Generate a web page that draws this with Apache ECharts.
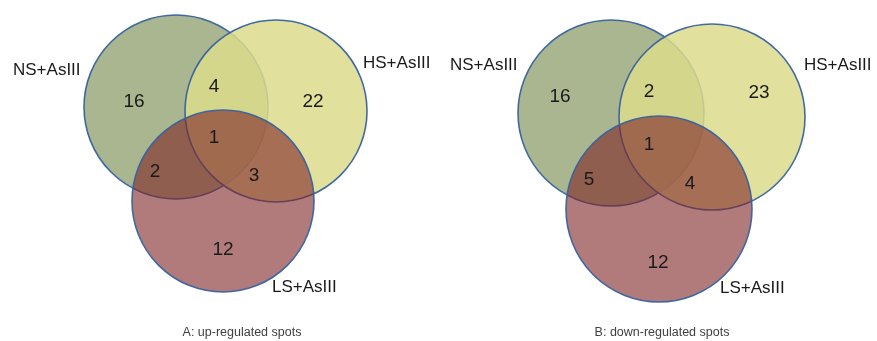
<!DOCTYPE html>
<html>
<head>
<meta charset="utf-8">
<script src="https://cdn.jsdelivr.net/npm/echarts@6/dist/echarts.min.js"></script>
<style>
html,body{margin:0;padding:0;background:#fff;}
#main{width:877px;height:341px;}
</style>
</head>
<body>
<div id="main"></div>
<script>
// ---- data ----
const setNames = ['NS+AsIII', 'HS+AsIII', 'LS+AsIII'];
const panelTitles = ['A: up-regulated spots', 'B: down-regulated spots'];
// region order: NS only, HS only, LS only, NS&HS, NS&LS, HS&LS, NS&HS&LS
const upCounts = [16, 22, 12, 4, 2, 3, 1];
const downCounts = [16, 23, 12, 2, 5, 4, 1];

// ---- layout (reference pixel space) ----
const circleLayout = [
  [[176, 107, 92], [276, 111, 91], [223, 201, 91]],
  [[611, 113, 93], [712, 117, 93], [659, 209, 93]]
];
const regionPos = [
  [[134, 102], [313, 102], [223, 250], [214, 87], [155, 172], [254, 176], [214, 138]],
  [[560, 97], [759, 93], [658, 263], [649, 92], [589, 180], [690, 184], [649, 145]]
];
const setLabelPos = [
  [[13, 70], [363, 63], [272, 287]],
  [[450, 65], [804, 65], [720, 288]]
];
const titlePos = [[242, 333], [662, 333]];
const fills = ['rgba(132,151,95,0.7)', 'rgba(220,220,140,0.85)', 'rgba(128,38,40,0.61)'];
const strokeColor = 'rgba(55,98,160,0.95)';

const allCounts = [upCounts, downCounts];
const circleData = [];
circleLayout.forEach((p) => p.forEach((c, i) => circleData.push([c[0], c[1], c[2], i])));
const textData = [];
allCounts.forEach((counts, p) => {
  counts.forEach((v, i) => textData.push([regionPos[p][i][0], regionPos[p][i][1], String(v), 'num']));
  setNames.forEach((n, i) => textData.push([setLabelPos[p][i][0], setLabelPos[p][i][1], n, 'set']));
  textData.push([titlePos[p][0], titlePos[p][1], panelTitles[p], 'title']);
});

const chart = echarts.init(document.getElementById('main'), null, {renderer: 'canvas'});
chart.setOption({
  animation: false,
  backgroundColor: '#ffffff',
  grid: {left: 0, right: 0, top: 0, bottom: 0},
  xAxis: {type: 'value', min: 0, max: 877, show: false},
  yAxis: {type: 'value', min: 0, max: 341, inverse: true, show: false},
  series: [
    {
      type: 'custom',
      coordinateSystem: 'cartesian2d',
      data: circleData,
      renderItem: function (params, api) {
        const c = api.coord([api.value(0), api.value(1)]);
        const r = api.size([api.value(2), 0])[0];
        const idx = api.value(3);
        return {
          type: 'circle',
          shape: {cx: c[0], cy: c[1], r: r},
          style: {fill: fills[idx], stroke: strokeColor, lineWidth: 1.6}
        };
      }
    },
    {
      type: 'custom',
      coordinateSystem: 'cartesian2d',
      data: textData,
      renderItem: function (params, api) {
        const d = textData[params.dataIndex];
        const c = api.coord([d[0], d[1]]);
        let style;
        if (d[3] === 'num') {
          style = {text: d[2], x: c[0], y: c[1], align: 'center', verticalAlign: 'middle',
            font: '19px "Liberation Sans", Arial, sans-serif', fill: '#1a1a1a'};
        } else if (d[3] === 'set') {
          style = {text: d[2], x: c[0], y: c[1], align: 'left', verticalAlign: 'middle',
            font: '17px "Liberation Sans", Arial, sans-serif', fill: '#1a1a1a'};
        } else {
          style = {text: d[2], x: c[0], y: c[1], align: 'center', verticalAlign: 'middle',
            font: '12.5px "Liberation Sans", Arial, sans-serif', fill: '#404040'};
        }
        return {type: 'text', style: style};
      }
    }
  ]
});
</script>
</body>
</html>
